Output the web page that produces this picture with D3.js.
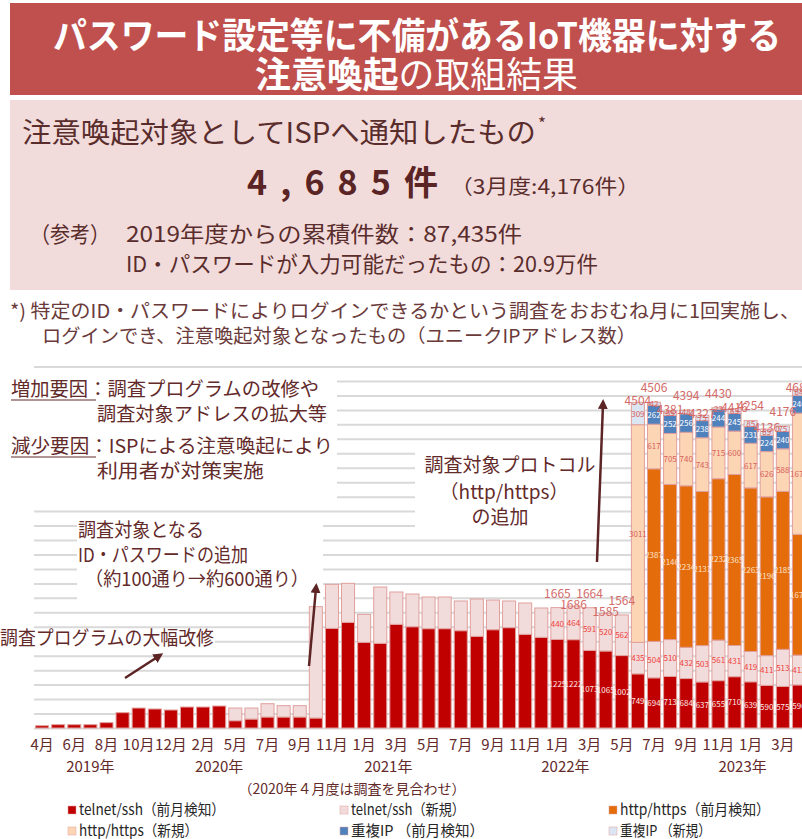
<!DOCTYPE html>
<html>
<head>
<meta charset="utf-8">
<title>IoT機器に対する注意喚起の取組結果</title>
<script src="https://d3js.org/d3.v7.min.js"></script>
<style>
  body { margin: 0; background: #fff; }
  svg { display: block; font-family: "Noto Sans CJK JP", "Noto Sans", sans-serif; }
</style>
</head>
<body>
<svg width="802" height="839"></svg>
<script>
// one entry per monthly survey (April 2020 was skipped)
var periods = ["2019-04","2019-05","2019-06","2019-07","2019-08","2019-09","2019-10","2019-11","2019-12","2020-01","2020-02","2020-03",
  "2020-05","2020-06","2020-07","2020-08","2020-09","2020-10","2020-11","2020-12","2021-01","2021-02","2021-03","2021-04",
  "2021-05","2021-06","2021-07","2021-08","2021-09","2021-10","2021-11","2021-12","2022-01","2022-02","2022-03","2022-04",
  "2022-05","2022-06","2022-07","2022-08","2022-09","2022-10","2022-11","2022-12","2023-01","2023-02","2023-03","2023-04"];

var telnetPrev = [32,46,46,46,74,212,276,263,249,290,290,304,
  101,124,152,152,152,138,1379,1461,1185,1171,1434,1401,
  1374,1374,1346,1268,1360,1388,1296,1254,1225,1222,1073,1065,
  1002,749,694,713,684,637,655,710,639,590,575,596];
var telnetNew = [0,0,0,0,0,0,0,0,0,0,0,0,
  175,152,184,157,157,1540,608,540,387,779,447,452,
  438,438,411,516,410,369,433,406,440,464,591,520,
  562,435,504,510,432,503,561,431,419,411,513,412];
var httpPrev = [0,0,0,0,0,0,0,0,0,0,0,0,
  0,0,0,0,0,0,0,0,0,0,0,0,
  0,0,0,0,0,0,0,0,0,0,0,0,
  0,0,2387,2146,2234,2131,2232,2365,2263,2196,2185,1671];
var httpNew = [0,0,0,0,0,0,0,0,0,0,0,0,
  0,0,0,0,0,0,0,0,0,0,0,0,
  0,0,0,0,0,0,0,0,0,0,0,0,
  0,3011,617,705,740,743,715,600,617,626,588,1676];
var dupPrev = [0,0,0,0,0,0,0,0,0,0,0,0,
  0,0,0,0,0,0,0,0,0,0,0,0,
  0,0,0,0,0,0,0,0,0,0,0,0,
  0,0,262,252,256,238,244,245,231,224,240,246];
var dupNew = [0,0,0,0,0,0,0,0,0,0,0,0,
  0,0,0,0,0,0,0,0,0,0,0,0,
  0,0,0,0,0,0,0,0,0,0,0,0,
  0,309,42,55,48,75,23,65,85,89,75,84];

var seriesKeys = ["telnetPrev","telnetNew","httpPrev","httpNew","dupPrev","dupNew"];
var seriesNames = ["telnet/ssh（前月検知）","telnet/ssh（新規）","http/https（前月検知）",
  "http/https（新規）","重複IP （前月検知）","重複IP （新規）"];
var firstLabelled = "2022-01";

var years = ["2019年","2020年","2021年","2022年","2023年"];
var yearBetween = [["2019-07","2019-07"],["2020-03","2020-03"],["2021-02","2021-03"],["2022-01","2022-02"],["2022-12","2023-01"]];

var colors = ["#c00000","#f2dcdb","#e46c0a","#fcd5b5","#4f81bd","#dce6f2"];
var labelColors = ["#fde9e9","#f03c3c","#fde3cc","#d9605a","#ffffff","#d9605a"];
var brown = "#632a2a";

var svg = d3.select("svg");

// title band
svg.append("rect").attr("x", 10).attr("y", 3).attr("width", 792).attr("height", 92).attr("fill", "#c0504d");
svg.append("text").attr("x", 53).attr("y", 49)
  .attr("textLength", 728).attr("lengthAdjust", "spacingAndGlyphs")
  .style("font-size", "36px").style("font-weight", 700).attr("fill", "#fff")
  .text("パスワード設定等に不備があるIoT機器に対する");
var t2 = svg.append("text").attr("x", 255).attr("y", 88)
  .attr("textLength", 323).attr("lengthAdjust", "spacingAndGlyphs")
  .style("font-size", "36px").attr("fill", "#fff");
t2.append("tspan").style("font-weight", 700).text("注意喚起");
t2.append("tspan").style("font-weight", 400).text("の取組結果");

// summary box
svg.append("rect").attr("x", 10).attr("y", 100).attr("width", 792).attr("height", 190).attr("fill", "#f2dcdb");
svg.append("text").attr("x", 22).attr("y", 143)
  .attr("textLength", 514).attr("lengthAdjust", "spacingAndGlyphs")
  .style("font-size", "28px").attr("fill", "#5a2d2d")
  .text("注意喚起対象としてISPへ通知したもの");
svg.append("text").attr("x", 538).attr("y", 130).style("font-size", "17px").attr("fill", "#5a2d2d").text("*");
svg.append("text").attr("x", 247).attr("y", 195)
  .attr("textLength", 191).attr("lengthAdjust", "spacing")
  .style("font-size", "34px").style("font-weight", 700).attr("fill", "#5a2424")
  .text("4,685件");
svg.append("text").attr("x", 450).attr("y", 194)
  .attr("textLength", 190).attr("lengthAdjust", "spacingAndGlyphs")
  .style("font-size", "20px").attr("fill", "#5a2d2d")
  .text("（3月度:4,176件）");
svg.append("text").attr("x", 30).attr("y", 242).style("font-size", "22px").attr("fill", "#5a2d2d")
  .attr("textLength", 80).attr("lengthAdjust", "spacingAndGlyphs").text("（参考）");
svg.append("text").attr("x", 126).attr("y", 242).style("font-size", "22px").attr("fill", "#5a2d2d")
  .attr("textLength", 396).attr("lengthAdjust", "spacingAndGlyphs")
  .text("2019年度からの累積件数：87,435件");
svg.append("text").attr("x", 126).attr("y", 272).style("font-size", "22px").attr("fill", "#5a2d2d")
  .attr("textLength", 472).attr("lengthAdjust", "spacingAndGlyphs")
  .text("ID・パスワードが入力可能だったもの：20.9万件");

// footnote
svg.append("text").attr("x", 10).attr("y", 318).style("font-size", "19px").attr("fill", "#6a3a3a")
  .attr("textLength", 790).attr("lengthAdjust", "spacingAndGlyphs")
  .text("*) 特定のID・パスワードによりログインできるかという調査をおおむね月に1回実施し、");
svg.append("text").attr("x", 42).attr("y", 343).style("font-size", "19px").attr("fill", "#6a3a3a")
  .attr("textLength", 594).attr("lengthAdjust", "spacingAndGlyphs")
  .text("ログインでき、注意喚起対象となったもの（ユニークIPアドレス数）");

// chart
var data = periods.map(function(p, i) {
  return { period: p, telnetPrev: telnetPrev[i], telnetNew: telnetNew[i], httpPrev: httpPrev[i],
    httpNew: httpNew[i], dupPrev: dupPrev[i], dupNew: dupNew[i] };
});
data.forEach(function(d) {
  d.total = d3.sum(seriesKeys, function(k) { return d[k]; });
});

var x = d3.scaleBand().domain(periods).range([34, 807]).paddingInner(0.19).paddingOuter(0.095);
var y = d3.scaleLinear().domain([0, 5000]).range([728, 366.5]);

// gridlines
var grid = svg.append("g").attr("transform", "translate(34,0)")
  .call(d3.axisRight(y).tickValues(d3.range(0, 5001, 200)).tickSize(768).tickFormat(""));
grid.select(".domain").remove();
grid.selectAll("line").attr("stroke", "#d9d9d9").attr("stroke-width", 2);

// white backing behind the annotations
var boxes = [[0, 372, 337, 131], [77, 520, 246, 84], [0, 630, 215, 22], [415, 450, 185, 80]];
svg.append("g").selectAll("rect").data(boxes).join("rect")
  .attr("x", function(b) { return b[0]; }).attr("y", function(b) { return b[1]; })
  .attr("width", function(b) { return b[2]; }).attr("height", function(b) { return b[3]; })
  .attr("fill", "#fff");

// stacked bars
var stacked = d3.stack().keys(seriesKeys)(data);
var layers = svg.append("g").selectAll("g").data(stacked).join("g")
  .attr("fill", function(s, i) { return colors[i]; });
layers.selectAll("rect").data(function(s) { return s.filter(function(d) { return d[1] > d[0]; }); })
  .join("rect")
  .attr("x", function(d) { return x(d.data.period); })
  .attr("y", function(d) { return y(d[1]); })
  .attr("width", x.bandwidth())
  .attr("height", function(d) { return y(d[0]) - y(d[1]); })
  .attr("stroke", "#e0a09e").attr("stroke-width", 1);

// segment labels
var startIdx = periods.indexOf(firstLabelled);
stacked.forEach(function(s, si) {
  svg.append("g").selectAll("text")
    .data(s.filter(function(d, i) { return i >= startIdx && d[1] > d[0]; }))
    .join("text")
    .attr("x", function(d) { return x(d.data.period) + x.bandwidth() / 2; })
    .attr("y", function(d) { return (y(d[0]) + y(d[1])) / 2 + 3; })
    .attr("text-anchor", "middle")
    .style("font-size", "8px")
    .attr("fill", labelColors[si])
    .text(function(d) { return d[1] - d[0]; });
});

// totals
svg.append("g").selectAll("text").data(data.slice(startIdx)).join("text")
  .attr("x", function(d) { return x(d.period) + x.bandwidth() / 2; })
  .attr("y", function(d, i) { return y(d.total) + (i % 2 === 0 ? -10 : 3); })
  .attr("text-anchor", "middle")
  .style("font-size", "12px")
  .attr("fill", "#d46a68")
  .text(function(d) { return d.total; });

// month axis
var xAxis = svg.append("g").attr("transform", "translate(0,733)")
  .call(d3.axisBottom(x).tickSize(0)
    .tickValues(periods.filter(function(p, i) { return i % 2 === 0; }))
    .tickFormat(function(p) { return +p.slice(5) + "月"; }));
xAxis.select(".domain").remove();
xAxis.selectAll("text").style("font-size", "15px").style("font-family", "Noto Sans CJK JP")
  .attr("fill", brown).attr("dy", "0.9em");

svg.append("g").selectAll("text").data(years).join("text")
  .attr("x", function(d, i) {
    var a = yearBetween[i];
    return (x(a[0]) + x(a[1])) / 2 + x.bandwidth() / 2;
  })
  .attr("y", 772).attr("text-anchor", "middle")
  .style("font-size", "15px").attr("fill", brown)
  .text(function(d) { return d; });

svg.append("text").attr("x", 352).attr("y", 794).attr("text-anchor", "middle")
  .style("font-size", "14px").attr("fill", brown)
  .text("（2020年４月度は調査を見合わせ）");

// legend
var legendX = [68, 340, 609];
var legendW = [146, 114, 150, 119, 133, 91];
var legend = svg.append("g").selectAll("g").data(seriesNames).join("g")
  .attr("transform", function(d, i) { return "translate(" + legendX[i % 3] + "," + (810 + Math.floor(i / 3) * 21) + ")"; });
legend.append("rect").attr("x", 0).attr("y", -4).attr("width", 8).attr("height", 8)
  .attr("fill", function(d, i) { return colors[i]; })
  .attr("stroke", "#e0a09e").attr("stroke-width", 0.5);
legend.append("text").attr("x", 11).attr("y", 5)
  .attr("textLength", function(d, i) { return legendW[i]; }).attr("lengthAdjust", "spacingAndGlyphs")
  .style("font-size", "15px").attr("fill", "#262626")
  .text(function(d) { return d; });

// annotations
var ann = svg.append("g").attr("fill", brown).style("font-size", "19px");
ann.append("text").attr("x", 11).attr("y", 396).attr("textLength", 308).attr("lengthAdjust", "spacingAndGlyphs")
  .text("増加要因：調査プログラムの改修や");
ann.append("text").attr("x", 97).attr("y", 421).attr("textLength", 230).attr("lengthAdjust", "spacingAndGlyphs")
  .text("調査対象アドレスの拡大等");
ann.append("text").attr("x", 11).attr("y", 453).attr("textLength", 322).attr("lengthAdjust", "spacingAndGlyphs")
  .text("減少要因：ISPによる注意喚起により");
ann.append("text").attr("x", 97).attr("y", 478).attr("textLength", 167).attr("lengthAdjust", "spacingAndGlyphs")
  .text("利用者が対策実施");
ann.append("line").attr("x1", 11).attr("x2", 96).attr("y1", 400).attr("y2", 400).attr("stroke", brown).attr("stroke-width", 1);
ann.append("line").attr("x1", 11).attr("x2", 96).attr("y1", 457).attr("y2", 457).attr("stroke", brown).attr("stroke-width", 1);

ann.append("text").attr("x", 510).attr("y", 472).attr("text-anchor", "middle").text("調査対象プロトコル");
ann.append("text").attr("x", 504).attr("y", 499).attr("text-anchor", "middle").text("（http/https）");
ann.append("text").attr("x", 500).attr("y", 524).attr("text-anchor", "middle").text("の追加");

ann.append("text").attr("x", 78).attr("y", 537).attr("textLength", 126).attr("lengthAdjust", "spacingAndGlyphs").text("調査対象となる");
ann.append("text").attr("x", 78).attr("y", 562).attr("textLength", 170).attr("lengthAdjust", "spacingAndGlyphs").text("ID・パスワードの追加");
ann.append("text").attr("x", 85).attr("y", 586).attr("textLength", 224).attr("lengthAdjust", "spacingAndGlyphs").text("（約100通り→約600通り）");

ann.append("text").attr("x", 0).attr("y", 645).attr("textLength", 214).attr("lengthAdjust", "spacingAndGlyphs").text("調査プログラムの大幅改修");

// arrows
var defs = svg.append("defs");
defs.append("marker").attr("id", "head").attr("viewBox", "0 0 10 10").attr("refX", 5).attr("refY", 5)
  .attr("markerWidth", 4).attr("markerHeight", 4).attr("orient", "auto")
  .append("path").attr("d", "M0,0L10,5L0,10z").attr("fill", "#5c2424");
var arrows = [[125, 678, 159, 656], [309, 666, 316, 588], [597, 562, 603, 404]];
svg.append("g").selectAll("line").data(arrows).join("line")
  .attr("x1", function(a) { return a[0]; }).attr("y1", function(a) { return a[1]; })
  .attr("x2", function(a) { return a[2]; }).attr("y2", function(a) { return a[3]; })
  .attr("stroke", "#5c2424").attr("stroke-width", 2.5)
  .attr("marker-end", "url(#head)");
</script>
</body>
</html>
